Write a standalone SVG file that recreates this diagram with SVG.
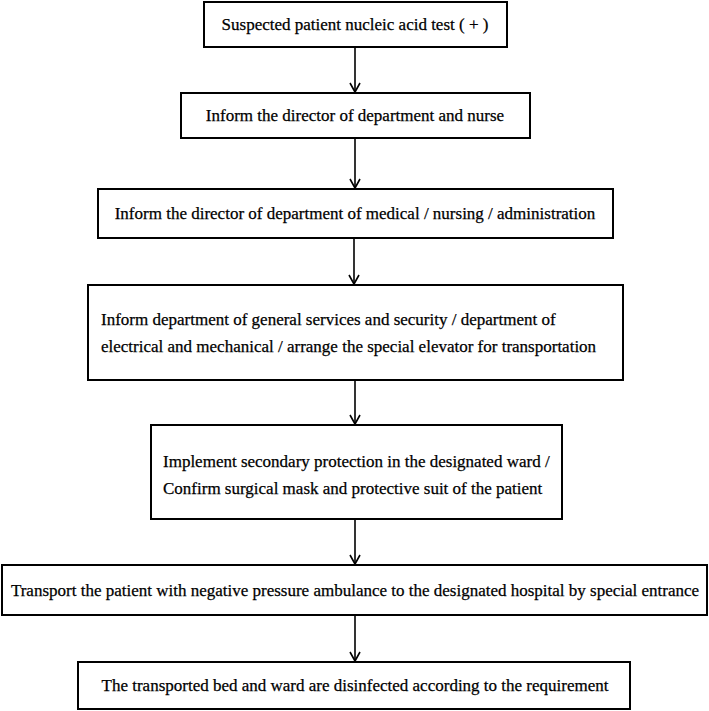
<svg xmlns="http://www.w3.org/2000/svg" width="709" height="711" viewBox="0 0 709 711">
<style>
.box{fill:#fff;stroke:#000;stroke-width:2}
.t{font-family:"Liberation Serif","Times New Roman",serif;font-size:17px;fill:#000;stroke:#000;stroke-width:0.25}
.c{text-anchor:middle}
.ln{stroke:#000;stroke-width:1.6;fill:none}
</style>
<defs>
<marker id="ah" markerWidth="12" markerHeight="12" refX="10" refY="6" orient="auto" markerUnits="userSpaceOnUse">
<path d="M1,1 L10,6 L1,11" fill="none" stroke="#000" stroke-width="1.6"/>
</marker>
</defs>
<rect width="709" height="711" fill="#fff"/>
<g id="connectors">
<line class="ln" x1="355" y1="47" x2="355" y2="92" marker-end="url(#ah)"/>
<line class="ln" x1="355" y1="138" x2="355" y2="188" marker-end="url(#ah)"/>
<line class="ln" x1="354" y1="238" x2="354" y2="284" marker-end="url(#ah)"/>
<line class="ln" x1="355" y1="380" x2="355" y2="424" marker-end="url(#ah)"/>
<line class="ln" x1="355" y1="519" x2="355" y2="564" marker-end="url(#ah)"/>
<line class="ln" x1="355" y1="615" x2="355" y2="661" marker-end="url(#ah)"/>
</g>
<g id="n1"><rect class="box" x="204" y="2" width="303" height="45"/><text class="t c" x="355" y="30">Suspected patient nucleic acid test ( + )</text></g>
<g id="n2"><rect class="box" x="181" y="93" width="349" height="45"/><text class="t c" x="355" y="121">Inform the director of department and nurse</text></g>
<g id="n3"><rect class="box" x="98" y="189" width="515" height="49"/><text class="t c" x="355" y="219">Inform the director of department of medical / nursing / administration</text></g>
<g id="n4"><rect class="box" x="88" y="285" width="535" height="95"/><text class="t" x="101" y="325">Inform department of general services and security / department of</text><text class="t" x="101" y="352">electrical and mechanical / arrange the special elevator for transportation</text></g>
<g id="n5"><rect class="box" x="151" y="425" width="411" height="94"/><text class="t" x="163" y="467">Implement secondary protection in the designated ward /</text><text class="t" x="163" y="494">Confirm surgical mask and protective suit of the patient</text></g>
<g id="n6"><rect class="box" x="2" y="565" width="705" height="50"/><text class="t c" x="355" y="596">Transport the patient with negative pressure ambulance to the designated hospital by special entrance</text></g>
<g id="n7"><rect class="box" x="78" y="662" width="552" height="47"/><text class="t c" x="355" y="691">The transported bed and ward are disinfected according to the requirement</text></g>
</svg>
